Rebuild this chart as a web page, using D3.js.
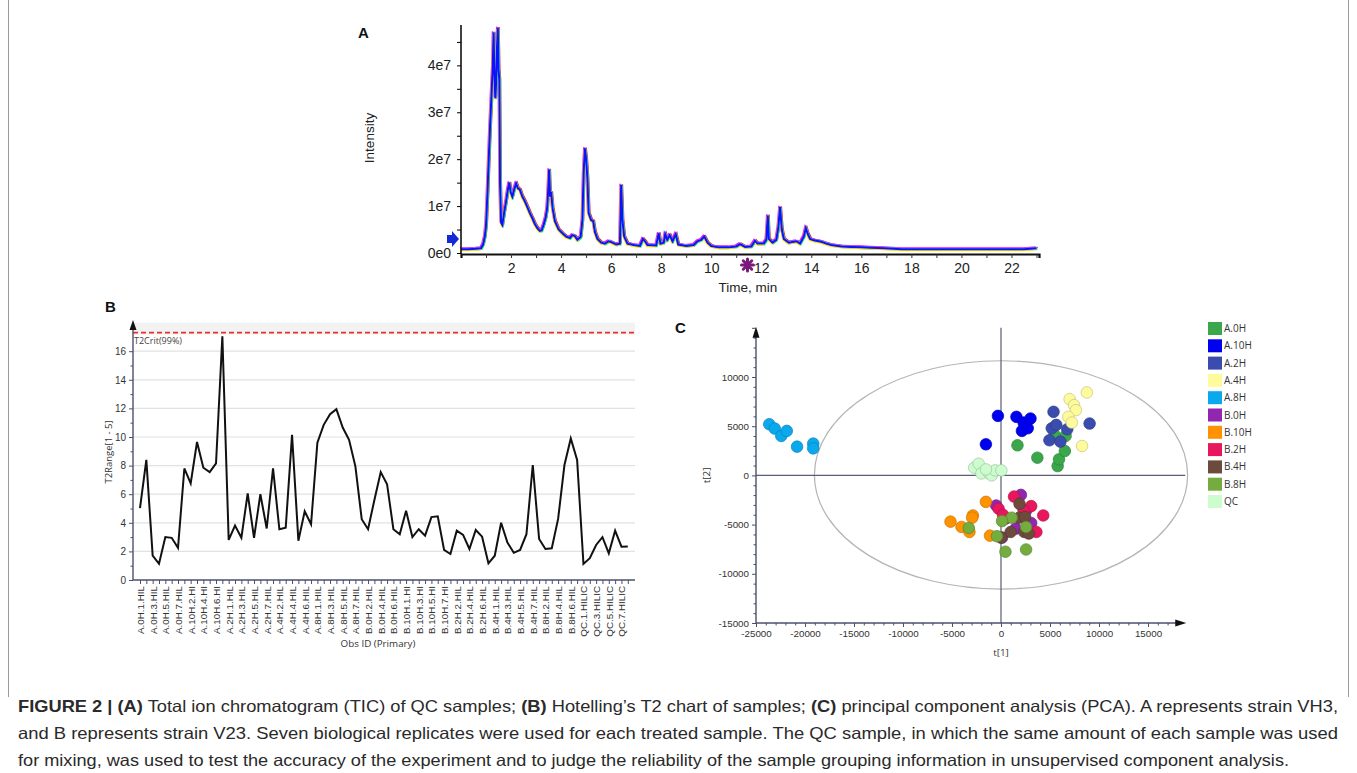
<!DOCTYPE html>
<html>
<head>
<meta charset="utf-8">
<script src="https://cdn.jsdelivr.net/npm/d3@7"></script>
<style>
  body { margin: 0; background: #fff; }
  svg { display: block; }
</style>
</head>
<body>
<script>
// ---- panel A: total ion chromatogram (intensity in 1e7 units) ----
var ticTime = [0.0, 0.3, 0.6, 0.8, 0.88, 0.95, 1.0, 1.05, 1.1, 1.16, 1.22, 1.27, 1.3, 1.33, 1.37, 1.4, 1.44, 1.47, 1.5, 1.53,
  1.56, 1.6, 1.65, 1.72, 1.8, 1.87, 1.93, 1.98, 2.05, 2.12, 2.2, 2.27, 2.35, 2.45, 2.55, 2.65, 2.75, 2.85, 2.95, 3.05,
  3.15, 3.22, 3.3, 3.38, 3.44, 3.48, 3.52, 3.56, 3.6, 3.66, 3.75, 3.9, 4.05, 4.2, 4.35, 4.45, 4.55, 4.65, 4.78, 4.85,
  4.9, 4.95, 5.0, 5.05, 5.1, 5.2, 5.28, 5.35, 5.45, 5.6, 5.75, 5.9, 6.05, 6.2, 6.35, 6.4, 6.45, 6.52, 6.65, 6.9,
  7.15, 7.27, 7.35, 7.45, 7.8, 7.9, 7.97, 8.1, 8.16, 8.24, 8.34, 8.45, 8.58, 8.68, 9.0, 9.3, 9.45, 9.6, 9.72, 9.85,
  10.0, 10.3, 10.7, 11.0, 11.15, 11.35, 11.6, 11.75, 11.85, 12.1, 12.2, 12.26, 12.3, 12.45, 12.6, 12.68, 12.75, 12.82, 12.9, 13.1,
  13.4, 13.55, 13.7, 13.78, 13.86, 13.95, 14.1, 14.4, 14.6, 14.8, 15.2, 15.6, 16.0, 16.4, 16.9, 17.3, 17.6, 20.0, 22.5, 23.0];
var ticIntensity = [0.08, 0.08, 0.09, 0.1, 0.18, 0.35, 0.6, 1.2, 1.9, 2.7, 3.4, 4.0, 4.7, 3.9, 3.3, 3.6, 4.4, 4.8, 3.9, 3.7,
  1.5, 0.65, 0.6, 0.85, 1.1, 1.35, 1.5, 1.3, 1.2, 1.35, 1.48, 1.38, 1.35, 1.2, 1.1, 0.98, 0.85, 0.74, 0.62, 0.53,
  0.47, 0.48, 0.6, 0.75, 0.95, 1.3, 1.78, 1.2, 1.3, 0.95, 0.68, 0.5, 0.42, 0.35, 0.32, 0.38, 0.36, 0.28, 0.34, 0.7,
  1.7, 2.23, 2.0, 1.6, 0.85, 0.7, 0.68, 0.45, 0.3, 0.22, 0.2, 0.25, 0.22, 0.18, 0.2, 1.45, 0.7, 0.35, 0.2, 0.17,
  0.15, 0.3, 0.25, 0.17, 0.16, 0.42, 0.2, 0.22, 0.4, 0.28, 0.38, 0.25, 0.4, 0.18, 0.15, 0.17, 0.25, 0.28, 0.35, 0.22,
  0.15, 0.12, 0.12, 0.14, 0.19, 0.13, 0.14, 0.26, 0.2, 0.2, 0.28, 0.8, 0.3, 0.22, 0.28, 0.55, 0.98, 0.5, 0.3, 0.22,
  0.25, 0.2, 0.35, 0.53, 0.4, 0.3, 0.27, 0.24, 0.2, 0.17, 0.14, 0.13, 0.12, 0.11, 0.1, 0.09, 0.08, 0.08, 0.08, 0.1];
var ticYTicks = [0, 1, 2, 3, 4];
var ticYLabels = ["0e0", "1e7", "2e7", "3e7", "4e7"];
var ticXTicks = [2, 4, 6, 8, 10, 12, 14, 16, 18, 20, 22];

// ---- panel B: Hotelling's T2 ----
var t2Groups = ["A.0H", "A.10H", "A.2H", "A.4H", "A.8H", "B.0H", "B.10H", "B.2H", "B.4H", "B.8H", "QC"];
var t2Reps = [7, 7, 7, 7, 7, 7, 7, 7, 7, 7, 8];
var t2Values = [5.03, 8.4, 1.7, 1.13, 3.0, 2.95, 2.25, 7.8, 6.75, 9.65, 7.85, 7.55, 8.15, 17.05,
  2.8, 3.8, 2.95, 6.05, 2.95, 6.0, 3.6, 7.8, 3.55, 3.65, 10.15, 2.75, 4.8, 3.9,
  9.6, 10.85, 11.6, 11.95, 10.66, 9.8, 7.95, 4.25, 3.55, 5.6, 7.55, 6.7, 3.55, 3.2,
  4.85, 3.0, 3.55, 3.1, 4.4, 4.45, 2.1, 1.82, 3.45, 3.15, 2.17, 3.5, 3.03, 1.17,
  1.7, 4.0, 2.62, 1.9, 2.1, 3.2, 8.04, 2.87, 2.17, 2.22, 4.27, 8.04, 9.9, 8.4,
  1.12, 1.52, 2.45, 3.0, 1.87, 3.45, 2.33, 2.35];
var t2Crit = 17.3;
var t2YTicks = [0, 2, 4, 6, 8, 10, 12, 14, 16];

// ---- panel C: PCA scores [t1, t2] ----
var pcaA0H = [[1680, 3060], [3710, 1800], [5780, 950], [5920, 1630], [6515, 2480], [6590, 4010], [5460, 4110]];
var pcaA10H = [[-315, 6050], [-1540, 3160], [1575, 5950], [2310, 5370], [3010, 5780], [2135, 4520], [2730, 4790]];
var pcaA2H = [[5360, 6460], [5180, 4790], [5640, 5130], [4940, 3570], [6060, 3430], [6760, 4690], [9040, 5270]];
var pcaA4H = [[8760, 8430], [7005, 7750], [7460, 7140], [7640, 6630], [6870, 5950], [7220, 5370], [8270, 2990]];
var pcaA8H = [[-23645, 5200], [-23085, 4760], [-22420, 4010], [-21860, 4520], [-20810, 2920], [-19160, 3230], [-19160, 2750]];
var pcaB0H = [[2030, -1980], [-490, -3060], [3080, -4840], [455, -4400], [2560, -3560], [1500, -5410], [105, -6320]];
var pcaB10H = [[-1540, -2690], [-2870, -4070], [-5150, -4700], [-4030, -5240], [-3220, -5750], [-1120, -6120], [-2940, -4300]];
var pcaB2H = [[1330, -2150], [-245, -3390], [3080, -3120], [4310, -4070], [3610, -5750], [210, -4000], [2310, -3560]];
var pcaB4H = [[1890, -2890], [980, -5750], [0, -6320], [1860, -4300], [2450, -4230], [2380, -5750], [2840, -5910]];
var pcaB8H = [[1085, -4300], [105, -4640], [-3290, -5340], [-420, -6180], [455, -7760], [2560, -7530], [2560, -5240]];
var pcaQC = [[-2730, 780], [-2280, 1190], [-2000, 200], [-1190, 170], [-950, 0], [-600, 510], [35, 510], [-1540, 610]];
var pcaNames = ["A.0H", "A.10H", "A.2H", "A.4H", "A.8H", "B.0H", "B.10H", "B.2H", "B.4H", "B.8H", "QC"];
var pcaSets = [pcaA0H, pcaA10H, pcaA2H, pcaA4H, pcaA8H, pcaB0H, pcaB10H, pcaB2H, pcaB4H, pcaB8H, pcaQC];
var pcaColors = ["#3aa84a", "#0000f0", "#3a4cad", "#fdfb9c", "#0aa8ec", "#9126b0", "#ff9200", "#e8175d", "#6c4b3c", "#74ad3e", "#cdfccf"];
var pcaEllipse = [19040, 11600]; // semi axes of the 95% ellipse
var pcaXTicks = [-25000, -20000, -15000, -10000, -5000, 0, 5000, 10000, 15000];
var pcaYTicks = [-15000, -10000, -5000, 0, 5000, 10000];

var captionLines = [
  [["FIGURE 2 | (A)", true], [" Total ion chromatogram (TIC) of QC samples; ", false], ["(B)", true], [" Hotelling\u2019s T2 chart of samples; ", false], ["(C)", true], [" principal component analysis (PCA). A represents strain VH3,", false]],
  [["and B represents strain V23. Seven biological replicates were used for each treated sample. The QC sample, in which the same amount of each sample was used", false]],
  [["for mixing, was used to test the accuracy of the experiment and to judge the reliability of the sample grouping information in unsupervised component analysis.", false]]
];
var captionWidths = [1320, 1320, 1271];

var svg = d3.select("body").append("svg").attr("width", 1357).attr("height", 773);

// frame sides round the figure
[8.5, 1348.5].forEach(function (x) {
  svg.append("line").attr("x1", x).attr("x2", x).attr("y1", 0).attr("y2", 697)
    .attr("stroke", "#9a9a9a").attr("stroke-width", 1);
});

function label(txt, x, y) {
  svg.append("text").attr("x", x).attr("y", y).text(txt)
    .attr("font-family", "Liberation Sans, Arial, sans-serif").attr("font-weight", "bold").attr("font-size", 15).attr("fill", "#111");
}
label("A", 358, 38);
label("B", 105, 312);
label("C", 675, 333);

//// panel A ////
var ax = d3.scaleLinear().domain([0, 23.1]).range([461, 1039]);
var ay = d3.scaleLinear().domain([0, 4.85]).range([253, 25.5]);
var gA = svg.append("g").attr("font-family", "Liberation Sans, Arial, sans-serif");

var ticLine = d3.line().x(function (d) { return ax(d[0]); }).y(function (d) { return ay(d[1]); });
var ticData = ticTime.map(function (t, i) { return [t, ticIntensity[i]]; });
// the overlaid runs only show as coloured fringes round the blue one
var fringe = [["#ff1010", 1.2, -0.8], ["#f020f0", -1.0, -1.2], ["#10f060", 0.8, 1.0], ["#ffe000", -0.6, 1.1], ["#10e0ff", 0.5, -0.4]];
fringe.forEach(function (f) {
  gA.append("path").datum(ticData).attr("d", ticLine)
    .attr("transform", "translate(" + f[1] + "," + f[2] + ")")
    .attr("fill", "none").attr("stroke", f[0]).attr("stroke-width", 1.6);
});
gA.append("path").datum(ticData).attr("d", ticLine)
  .attr("fill", "none").attr("stroke", "#1010ff").attr("stroke-width", 2);

var axA = gA.append("g").attr("transform", "translate(0,254)")
  .call(d3.axisBottom(ax).tickValues(d3.range(1, 24)).tickSize(4)
    .tickFormat(function (d) { return ticXTicks.indexOf(d) >= 0 ? d : ""; }));
axA.select(".domain").attr("stroke-width", 2.2).attr("stroke", "#111");
axA.selectAll("text").attr("font-size", 14).attr("fill", "#222").attr("dy", "0.85em");
axA.selectAll(".tick line").attr("stroke", "#333");

var ayA = gA.append("g").attr("transform", "translate(461,0)")
  .call(d3.axisLeft(ay).tickValues(d3.range(0, 4.6, 0.5)).tickSize(4).tickPadding(6)
    .tickFormat(function (d) { var k = ticYTicks.indexOf(d); return k >= 0 ? ticYLabels[k] : ""; }));
ayA.select(".domain").attr("stroke-width", 1.6).attr("stroke", "#111").attr("d", "M0,254V25");
ayA.selectAll("text").attr("font-size", 14).attr("fill", "#222");

gA.append("text").attr("x", 748).attr("y", 292).attr("text-anchor", "middle")
  .attr("font-size", 13.5).attr("fill", "#222").text("Time, min");
gA.append("text").attr("transform", "translate(374,138) rotate(-90)").attr("text-anchor", "middle")
  .attr("font-size", 13.5).attr("fill", "#222").text("Intensity");

// start marker and the purple cursor
gA.append("path").attr("d", "M447,235 h5 v-4 l7,8 l-7,8 v-4 h-5 z").attr("fill", "#1428d8");
var star = gA.append("g").attr("transform", "translate(" + ax(11.45) + ",265)")
  .attr("stroke", "#7a1a7a").attr("stroke-width", 3).attr("stroke-linecap", "round");
[0, 45, 90, 135].forEach(function (a) {
  star.append("line").attr("x1", -6).attr("x2", 6).attr("transform", "rotate(" + a + ")");
});

//// panel B ////
var sampleNames = [];
t2Groups.forEach(function (g, i) {
  for (var r = 1; r <= t2Reps[i]; r++) sampleNames.push(g + "." + r + ".HILIC");
});
var bx = d3.scalePoint().domain(sampleNames).range([140, 627.8]);
var by = d3.scaleLinear().domain([0, 18]).range([580, 322.6]);
var gB = svg.append("g").attr("font-family", "Open Sans, Segoe UI, sans-serif");

gB.append("rect").attr("x", 133).attr("y", by(18)).attr("width", 502).attr("height", by(t2Crit) - by(18) + 2).attr("fill", "#f2f2f2");
gB.selectAll(".grid").data(t2YTicks.slice(1)).enter().append("line")
  .attr("x1", 133).attr("x2", 635).attr("y1", function (d) { return by(d); }).attr("y2", function (d) { return by(d); })
  .attr("stroke", "#e2e2e2").attr("stroke-width", 1.2);
gB.append("line").attr("x1", 133).attr("x2", 635).attr("y1", by(t2Crit)).attr("y2", by(t2Crit))
  .attr("stroke", "#e8302a").attr("stroke-width", 1.6).attr("stroke-dasharray", "5,3");
gB.append("text").attr("x", 134).attr("y", by(t2Crit) + 11).attr("font-size", 9).attr("fill", "#444").text("T2Crit(99%)");

var line = d3.line().x(function (d, i) { return bx(sampleNames[i]); }).y(function (d) { return by(d); });
gB.append("path").datum(t2Values).attr("d", line).attr("fill", "none").attr("stroke", "#111").attr("stroke-width", 2);

var axisCol = "#4c4f6c";
var ayB = gB.append("g").attr("transform", "translate(133,0)")
  .call(d3.axisLeft(by).tickValues(d3.range(0, 17, 1)).tickSize(4)
    .tickFormat(function (d) { return d % 2 === 0 ? d : ""; }));
ayB.select(".domain").attr("stroke", axisCol).attr("stroke-width", 1.4).attr("d", "M0,580V326");
ayB.selectAll(".tick line").attr("stroke", axisCol).attr("x2", function (d) { return d % 2 === 0 ? -4 : -2.5; });
ayB.selectAll("text").attr("font-size", 10).attr("fill", "#333");
gB.append("path").attr("d", "M129.5,330 L133,320 L136.5,330 Z").attr("fill", "#111");

var axB = gB.append("g").attr("transform", "translate(0,580)")
  .call(d3.axisBottom(bx).tickSize(4).tickSizeOuter(0)
    .tickFormat(function (d, i) { return i % 2 === 0 ? d.slice(0, 10) : ""; }));
axB.select(".domain").attr("stroke", axisCol).attr("stroke-width", 1.4).attr("d", "M133,0H635");
axB.selectAll(".tick line").attr("stroke", axisCol);
axB.selectAll("text").attr("font-size", 9.8).attr("fill", "#333")
  .attr("transform", "rotate(-90)").attr("text-anchor", "end").attr("x", -6).attr("y", 0).attr("dy", "0.35em");

gB.append("text").attr("x", 378).attr("y", 647).attr("text-anchor", "middle").attr("font-size", 9.8).attr("fill", "#333").text("Obs ID (Primary)");
gB.append("text").attr("transform", "translate(112,452) rotate(-90)").attr("text-anchor", "middle")
  .attr("font-size", 9.5).attr("fill", "#333").text("T2Range[1 - 5]");

//// panel C ////
var cx = d3.scaleLinear().domain([-25000, 15000]).range([756, 1148]);
var cy = d3.scaleLinear().domain([-15000, 10000]).range([623, 377]);
var gC = svg.append("g").attr("font-family", "Open Sans, Segoe UI, sans-serif");

gC.append("ellipse").attr("cx", cx(0)).attr("cy", cy(50))
  .attr("rx", cx(pcaEllipse[0]) - cx(0)).attr("ry", cy(0) - cy(pcaEllipse[1]))
  .attr("fill", "none").attr("stroke", "#b4b4b4").attr("stroke-width", 1.2);
gC.append("line").attr("x1", cx(-25000)).attr("x2", cx(18800)).attr("y1", cy(0)).attr("y2", cy(0)).attr("stroke", "#5a5d74").attr("stroke-width", 1.2);
gC.append("line").attr("x1", cx(0)).attr("x2", cx(0)).attr("y1", cy(-15000)).attr("y2", cy(15000)).attr("stroke", "#5a5d74").attr("stroke-width", 1.2);

pcaSets.forEach(function (set, k) {
  gC.selectAll(".p" + k).data(set).enter().append("circle")
    .attr("cx", function (d) { return cx(d[0]); }).attr("cy", function (d) { return cy(d[1]); })
    .attr("r", 5.8).attr("fill", pcaColors[k])
    .attr("stroke", d3.color(pcaColors[k]).darker(0.7)).attr("stroke-width", 0.7);
});

var ayC = gC.append("g").attr("transform", "translate(" + cx(-25000) + ",0)")
  .call(d3.axisLeft(cy).tickValues(d3.range(-15000, 15001, 1000)).tickSize(4)
    .tickFormat(function (d) { return pcaYTicks.indexOf(d) >= 0 ? d : ""; }));
ayC.select(".domain").attr("stroke", axisCol).attr("stroke-width", 1.4).attr("d", "M0," + cy(-15000) + "V" + cy(14400));
ayC.selectAll(".tick line").attr("stroke", axisCol).attr("x2", function (d) { return d % 5000 === 0 ? -4 : -2.5; });
ayC.selectAll("text").attr("font-size", 9.8).attr("fill", "#333");
gC.append("path").attr("d", "M" + (cx(-25000) - 3.5) + "," + (cy(15000) + 10) + " L" + cx(-25000) + "," + (cy(15000) - 1) + " L" + (cx(-25000) + 3.5) + "," + (cy(15000) + 10) + " Z").attr("fill", "#111");

var axC = gC.append("g").attr("transform", "translate(0," + cy(-15000) + ")")
  .call(d3.axisBottom(cx).tickValues(d3.range(-25000, 18001, 1000)).tickSize(4)
    .tickFormat(function (d) { return pcaXTicks.indexOf(d) >= 0 ? d : ""; }));
axC.select(".domain").attr("stroke", axisCol).attr("stroke-width", 1.4).attr("d", "M" + cx(-25000) + ",0H" + cx(18200));
axC.selectAll(".tick line").attr("stroke", axisCol).attr("y2", function (d) { return d % 5000 === 0 ? 4 : 2.5; });
axC.selectAll("text").attr("font-size", 9.8).attr("fill", "#333");
gC.append("path").attr("d", "M" + (cx(18800) - 10) + "," + (cy(-15000) - 3.5) + " L" + (cx(18800) + 1) + "," + cy(-15000) + " L" + (cx(18800) - 10) + "," + (cy(-15000) + 3.5) + " Z").attr("fill", "#111");

gC.append("text").attr("x", cx(0)).attr("y", 656).attr("text-anchor", "middle").attr("font-size", 9.8).attr("fill", "#333").text("t[1]");
gC.append("text").attr("transform", "translate(710," + cy(0) + ") rotate(-90)").attr("text-anchor", "middle")
  .attr("font-size", 9.8).attr("fill", "#333").text("t[2]");

// legend
var leg = gC.selectAll(".leg").data(pcaNames).enter().append("g")
  .attr("transform", function (d, i) { return "translate(1208," + (322 + i * 17.3) + ")"; });
leg.append("rect").attr("width", 14).attr("height", 13).attr("fill", function (d, i) { return pcaColors[i]; });
leg.append("text").attr("x", 16).attr("y", 10).attr("font-size", 10).attr("fill", "#333").text(function (d) { return d; });

//// caption ////
captionLines.forEach(function (parts, i) {
  var t = svg.append("text").attr("x", 18).attr("y", 712 + i * 27)
    .attr("font-family", "Liberation Sans Narrow, Arial Narrow, Liberation Sans, sans-serif")
    .attr("font-size", 16.5).attr("fill", "#2a2a2a")
    .attr("textLength", captionWidths[i]).attr("lengthAdjust", "spacingAndGlyphs");
  parts.forEach(function (p) {
    t.append("tspan").attr("font-weight", p[1] ? "bold" : "normal").text(p[0]);
  });
});
</script>
</body>
</html>
